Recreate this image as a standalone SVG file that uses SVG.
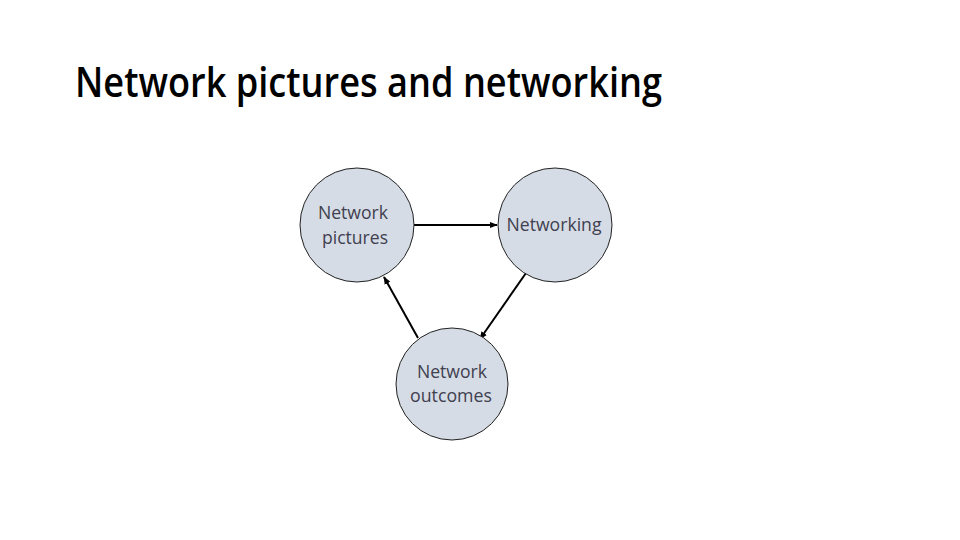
<svg xmlns="http://www.w3.org/2000/svg" width="960" height="540" viewBox="0 0 960 540">
<style>
.node{fill:#d6dce5;stroke:#222;stroke-width:1}
.lbl{font-family:"Open Sans","Liberation Sans",sans-serif;font-size:17.5px;fill:#404050;text-anchor:middle}
.title{font-family:"Open Sans","Liberation Sans",sans-serif;font-size:41px;font-weight:600;fill:#000}
.edge{stroke:#000;stroke-width:2;fill:none;marker-end:url(#ah)}
</style>
<defs>
<marker id="ah" viewBox="0 0 10 10" refX="9" refY="5" markerWidth="4" markerHeight="4" orient="auto" markerUnits="strokeWidth">
<path d="M0,1 L10,5 L0,9 z" fill="#000"/>
</marker>
</defs>
<rect width="960" height="540" fill="#fff"/>
<text class="title" x="75" y="97" textLength="587" lengthAdjust="spacingAndGlyphs">Network pictures and networking</text>
<g id="connectors">
<line class="edge" x1="414" y1="225" x2="497" y2="225"/>
<line class="edge" x1="526" y1="273" x2="480" y2="339"/>
<line class="edge" x1="418" y1="338" x2="384" y2="277"/>
</g>
<g id="n-pictures">
<circle class="node" cx="357" cy="225" r="57"/>
<text class="lbl" x="353" y="219" textLength="70" lengthAdjust="spacingAndGlyphs">Network</text>
<text class="lbl" x="355" y="244" textLength="66" lengthAdjust="spacingAndGlyphs">pictures</text>
</g>
<g id="n-networking">
<circle class="node" cx="555" cy="225" r="57"/>
<text class="lbl" x="554" y="231" textLength="95" lengthAdjust="spacingAndGlyphs">Networking</text>
</g>
<g id="n-outcomes">
<circle class="node" cx="452" cy="384" r="56"/>
<text class="lbl" x="452" y="378" textLength="70" lengthAdjust="spacingAndGlyphs">Network</text>
<text class="lbl" x="451" y="402" textLength="82" lengthAdjust="spacingAndGlyphs">outcomes</text>
</g>
</svg>
